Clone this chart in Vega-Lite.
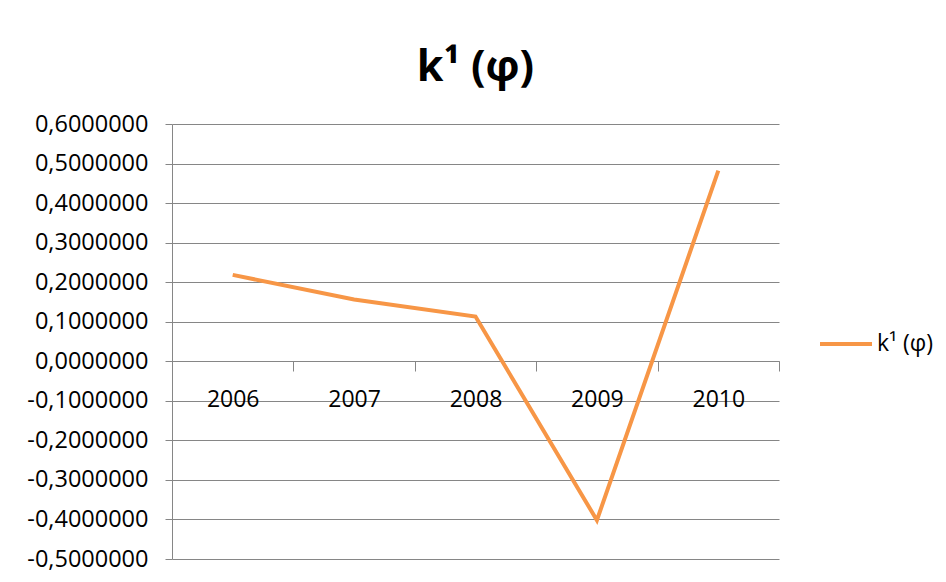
{
  "$schema": "https://vega.github.io/schema/vega-lite/v6.json",
  "autosize": {"type": "none"},
  "padding": {"left": 172, "top": 124, "right": 167, "bottom": 23},
  "width": 607,
  "height": 435,
  "background": "white",
  "config": {
    "locale": {"number": {"decimal": ",", "thousands": ".", "grouping": [3], "currency": ["", ""], "minus": "-"}},
    "view": {"stroke": null},
    "font": "Open Sans"
  },
  "title": {
    "text": "k¹ (φ)",
    "fontSize": 43,
    "fontWeight": "bold",
    "font": "Open Sans",
    "color": "#000000",
    "baseline": "bottom",
    "offset": -21
  },
  "data": {
    "values": [
      {"year": "2006", "value": 0.2185, "series": "k¹ (φ)"},
      {"year": "2007", "value": 0.156, "series": "k¹ (φ)"},
      {"year": "2008", "value": 0.113, "series": "k¹ (φ)"},
      {"year": "2009", "value": -0.402, "series": "k¹ (φ)"},
      {"year": "2010", "value": 0.482, "series": "k¹ (φ)"}
    ]
  },
  "mark": {"type": "line", "strokeWidth": 4, "strokeCap": "butt", "strokeJoin": "miter"},
  "encoding": {
    "x": {
      "field": "year",
      "type": "nominal",
      "scale": {"type": "band", "paddingInner": 0, "paddingOuter": 0},
      "axis": {
        "title": null,
        "orient": "bottom",
        "offset": -198,
        "labelAngle": 0,
        "labelFontSize": 23,
        "labelFont": "Open Sans",
        "labelColor": "#000000",
        "labelPadding": 17,
        "tickBand": "extent",
        "tickSize": 10,
        "tickColor": "#868686",
        "domainColor": "#868686",
        "grid": false
      }
    },
    "y": {
      "field": "value",
      "type": "quantitative",
      "scale": {"domain": [-0.5, 0.6], "nice": false, "zero": false},
      "axis": {
        "title": null,
        "values": [-0.5, -0.4, -0.3, -0.2, -0.1, 0, 0.1, 0.2, 0.3, 0.4, 0.5, 0.6],
        "format": ".7f",
        "labelFontSize": 23.5,
        "labelFont": "Open Sans",
        "labelColor": "#000000",
        "labelPadding": 17,
        "tickSize": 7,
        "tickColor": "#868686",
        "domainColor": "#868686",
        "grid": true,
        "gridColor": "#868686",
        "gridOpacity": 1
      }
    },
    "color": {
      "field": "series",
      "type": "nominal",
      "scale": {"range": ["#F79646"]},
      "legend": {
        "title": null,
        "orient": "none",
        "legendX": 646,
        "legendY": 192,
        "symbolType": "stroke",
        "symbolSize": 2704,
        "symbolStrokeWidth": 4,
        "labelFontSize": 23,
        "labelFont": "Open Sans",
        "labelColor": "#000000",
        "labelOffset": 3
      }
    }
  }
}
